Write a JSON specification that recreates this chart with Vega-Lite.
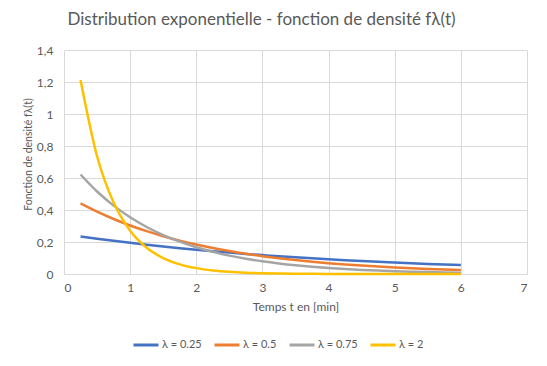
{
  "$schema": "https://vega.github.io/schema/vega-lite/v6.json",
  "width": 463,
  "height": 224,
  "autosize": {"type": "none"},
  "padding": {"left": 64, "top": 50, "right": 20, "bottom": 92},
  "background": "white",
  "title": {
    "text": "Distribution exponentielle - fonction de densité fλ(t)",
    "font": "Lato",
    "fontSize": 17,
    "fontWeight": "normal",
    "color": "#595959",
    "anchor": "middle",
    "dx": -34,
    "offset": 15
  },
  "data": {
    "values": [
      {"t": 0.25, "s": "λ = 0.25", "f": 0.2349}, {"t": 0.5, "s": "λ = 0.25", "f": 0.2206}, {"t": 0.75, "s": "λ = 0.25", "f": 0.2073}, {"t": 1, "s": "λ = 0.25", "f": 0.1947},
      {"t": 1.25, "s": "λ = 0.25", "f": 0.1829}, {"t": 1.5, "s": "λ = 0.25", "f": 0.1718}, {"t": 1.75, "s": "λ = 0.25", "f": 0.1614}, {"t": 2, "s": "λ = 0.25", "f": 0.1516},
      {"t": 2.25, "s": "λ = 0.25", "f": 0.1424}, {"t": 2.5, "s": "λ = 0.25", "f": 0.1338}, {"t": 2.75, "s": "λ = 0.25", "f": 0.1257}, {"t": 3, "s": "λ = 0.25", "f": 0.1181},
      {"t": 3.25, "s": "λ = 0.25", "f": 0.1109}, {"t": 3.5, "s": "λ = 0.25", "f": 0.1042}, {"t": 3.75, "s": "λ = 0.25", "f": 0.0979}, {"t": 4, "s": "λ = 0.25", "f": 0.092},
      {"t": 4.25, "s": "λ = 0.25", "f": 0.0864}, {"t": 4.5, "s": "λ = 0.25", "f": 0.0812}, {"t": 4.75, "s": "λ = 0.25", "f": 0.0762}, {"t": 5, "s": "λ = 0.25", "f": 0.0716},
      {"t": 5.25, "s": "λ = 0.25", "f": 0.0673}, {"t": 5.5, "s": "λ = 0.25", "f": 0.0632}, {"t": 5.75, "s": "λ = 0.25", "f": 0.0594}, {"t": 6, "s": "λ = 0.25", "f": 0.0558},
      {"t": 0.25, "s": "λ = 0.5", "f": 0.4412}, {"t": 0.5, "s": "λ = 0.5", "f": 0.3894}, {"t": 0.75, "s": "λ = 0.5", "f": 0.3436}, {"t": 1, "s": "λ = 0.5", "f": 0.3033},
      {"t": 1.25, "s": "λ = 0.5", "f": 0.2676}, {"t": 1.5, "s": "λ = 0.5", "f": 0.2362}, {"t": 1.75, "s": "λ = 0.5", "f": 0.2084}, {"t": 2, "s": "λ = 0.5", "f": 0.1839},
      {"t": 2.25, "s": "λ = 0.5", "f": 0.1623}, {"t": 2.5, "s": "λ = 0.5", "f": 0.1433}, {"t": 2.75, "s": "λ = 0.5", "f": 0.1264}, {"t": 3, "s": "λ = 0.5", "f": 0.1116},
      {"t": 3.25, "s": "λ = 0.5", "f": 0.0985}, {"t": 3.5, "s": "λ = 0.5", "f": 0.0869}, {"t": 3.75, "s": "λ = 0.5", "f": 0.0767}, {"t": 4, "s": "λ = 0.5", "f": 0.0677},
      {"t": 4.25, "s": "λ = 0.5", "f": 0.0597}, {"t": 4.5, "s": "λ = 0.5", "f": 0.0527}, {"t": 4.75, "s": "λ = 0.5", "f": 0.0465}, {"t": 5, "s": "λ = 0.5", "f": 0.041},
      {"t": 5.25, "s": "λ = 0.5", "f": 0.0362}, {"t": 5.5, "s": "λ = 0.5", "f": 0.032}, {"t": 5.75, "s": "λ = 0.5", "f": 0.0282}, {"t": 6, "s": "λ = 0.5", "f": 0.0249},
      {"t": 0.25, "s": "λ = 0.75", "f": 0.6218}, {"t": 0.5, "s": "λ = 0.75", "f": 0.5155}, {"t": 0.75, "s": "λ = 0.75", "f": 0.4273}, {"t": 1, "s": "λ = 0.75", "f": 0.3543},
      {"t": 1.25, "s": "λ = 0.75", "f": 0.2937}, {"t": 1.5, "s": "λ = 0.75", "f": 0.2435}, {"t": 1.75, "s": "λ = 0.75", "f": 0.2019}, {"t": 2, "s": "λ = 0.75", "f": 0.1673},
      {"t": 2.25, "s": "λ = 0.75", "f": 0.1387}, {"t": 2.5, "s": "λ = 0.75", "f": 0.115}, {"t": 2.75, "s": "λ = 0.75", "f": 0.0953}, {"t": 3, "s": "λ = 0.75", "f": 0.079},
      {"t": 3.25, "s": "λ = 0.75", "f": 0.0655}, {"t": 3.5, "s": "λ = 0.75", "f": 0.0543}, {"t": 3.75, "s": "λ = 0.75", "f": 0.045}, {"t": 4, "s": "λ = 0.75", "f": 0.0373},
      {"t": 4.25, "s": "λ = 0.75", "f": 0.031}, {"t": 4.5, "s": "λ = 0.75", "f": 0.0257}, {"t": 4.75, "s": "λ = 0.75", "f": 0.0213}, {"t": 5, "s": "λ = 0.75", "f": 0.0176},
      {"t": 5.25, "s": "λ = 0.75", "f": 0.0146}, {"t": 5.5, "s": "λ = 0.75", "f": 0.0121}, {"t": 5.75, "s": "λ = 0.75", "f": 0.0101}, {"t": 6, "s": "λ = 0.75", "f": 0.0083},
      {"t": 0.25, "s": "λ = 2", "f": 1.2131}, {"t": 0.5, "s": "λ = 2", "f": 0.7358}, {"t": 0.75, "s": "λ = 2", "f": 0.4463}, {"t": 1, "s": "λ = 2", "f": 0.2707},
      {"t": 1.25, "s": "λ = 2", "f": 0.1642}, {"t": 1.5, "s": "λ = 2", "f": 0.0996}, {"t": 1.75, "s": "λ = 2", "f": 0.0604}, {"t": 2, "s": "λ = 2", "f": 0.0366},
      {"t": 2.25, "s": "λ = 2", "f": 0.0222}, {"t": 2.5, "s": "λ = 2", "f": 0.0135}, {"t": 2.75, "s": "λ = 2", "f": 0.0082}, {"t": 3, "s": "λ = 2", "f": 0.005},
      {"t": 3.25, "s": "λ = 2", "f": 0.003}, {"t": 3.5, "s": "λ = 2", "f": 0.0018}, {"t": 3.75, "s": "λ = 2", "f": 0.0011}, {"t": 4, "s": "λ = 2", "f": 0.0007},
      {"t": 4.25, "s": "λ = 2", "f": 0.0004}, {"t": 4.5, "s": "λ = 2", "f": 0.0002}, {"t": 4.75, "s": "λ = 2", "f": 0.0001}, {"t": 5, "s": "λ = 2", "f": 0.0001},
      {"t": 5.25, "s": "λ = 2", "f": 0.0001}, {"t": 5.5, "s": "λ = 2", "f": 0.0}, {"t": 5.75, "s": "λ = 2", "f": 0.0}, {"t": 6, "s": "λ = 2", "f": 0.0}
    ]
  },
  "mark": {"type": "line", "interpolate": "monotone", "strokeWidth": 2.5},
  "encoding": {
    "x": {
      "field": "t",
      "type": "quantitative",
      "scale": {"domain": [0, 7], "nice": false},
      "axis": {
        "title": "Temps t en [min]",
        "values": [0, 1, 2, 3, 4, 5, 6, 7],
        "labelPadding": 8,
        "titlePadding": 8
      }
    },
    "y": {
      "field": "f",
      "type": "quantitative",
      "scale": {"domain": [0, 1.4], "nice": false},
      "axis": {
        "title": "Fonction de densité fλ(t)",
        "titleFontSize": 10.5,
        "titleX": -31,
        "titleY": 104,
        "titleBaseline": "bottom",
        "values": [0, 0.2, 0.4, 0.6, 0.8, 1, 1.2, 1.4],
        "labelExpr": "replace(format(datum.value, '~g'), '.', ',')",
        "labelPadding": 11,
        "domain": false
      }
    },
    "color": {
      "field": "s",
      "type": "nominal",
      "scale": {
        "domain": ["λ = 0.25", "λ = 0.5", "λ = 0.75", "λ = 2"],
        "range": ["#4472C4", "#ED7D31", "#A5A5A5", "#FFC000"]
      },
      "legend": {
        "title": null,
        "orient": "none",
        "direction": "horizontal",
        "legendX": 68,
        "legendY": 281,
        "symbolType": "stroke",
        "symbolStrokeWidth": 3,
        "symbolSize": 625,
        "labelOffset": 2,
        "columnPadding": 6,
        "labelFont": "Lato",
        "labelFontSize": 11,
        "labelColor": "#595959"
      }
    }
  },
  "config": {
    "view": {"stroke": null},
    "axis": {
      "grid": true,
      "gridColor": "#D9D9D9",
      "gridWidth": 1,
      "domainColor": "#D9D9D9",
      "ticks": false,
      "tickSize": 0,
      "labelFont": "Lato",
      "labelFontSize": 12,
      "labelColor": "#595959",
      "titleFont": "Lato",
      "titleFontSize": 12,
      "titleFontWeight": "normal",
      "titleColor": "#595959"
    }
  }
}
